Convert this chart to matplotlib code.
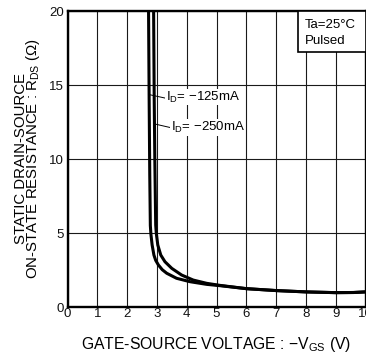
import matplotlib
matplotlib.use("Agg")
import matplotlib.pyplot as plt
from matplotlib.patches import Rectangle

plt.rcParams["font.family"] = ["Liberation Sans", "DejaVu Sans"]
plt.rcParams["mathtext.fontset"] = "custom"
plt.rcParams["mathtext.rm"] = "Liberation Sans"
plt.rcParams["mathtext.it"] = "Liberation Sans:italic"

# R_DS(on) vs -V_GS at two drain currents
vgs_125 = [2.72, 2.74, 2.76, 2.78, 2.80, 2.84, 2.90, 2.96, 3.05, 3.18, 3.33, 3.66,
           4.11, 4.67, 5.12, 6.0, 7.0, 8.0, 9.0, 9.6, 10.0]
rds_125 = [20.0, 14.0, 9.0, 5.5, 4.9, 4.19, 3.51, 3.15, 2.84, 2.52, 2.28, 1.94,
           1.71, 1.53, 1.44, 1.24, 1.11, 1.02, 0.97, 0.98, 1.02]
vgs_250 = [2.89, 2.91, 2.93, 2.96, 2.98, 3.03, 3.13, 3.27, 3.50, 3.83, 4.22, 4.67,
           5.12, 6.0, 7.0, 8.0, 9.0, 9.6, 10.0]
rds_250 = [20.0, 14.0, 10.0, 5.54, 4.98, 4.19, 3.51, 3.06, 2.61, 2.16, 1.82, 1.60,
           1.46, 1.24, 1.11, 1.02, 0.97, 0.98, 1.02]

x_ticks = [0, 1, 2, 3, 4, 5, 6, 7, 8, 9, 10]
y_ticks = [0, 5, 10, 15, 20]

W, H = 366, 356
fig = plt.figure(figsize=(W / 100, H / 100), dpi=100)
L, R, T, B = 67.5, 365.5, 11, 307
ax = fig.add_axes([L / W, (H - B) / H, (R - L) / W, (B - T) / H])

ax.set_xlim(0, 10)
ax.set_ylim(0, 20)
ax.set_xticks(x_ticks)
ax.set_yticks(y_ticks)
ax.grid(True, color="#1a1a1a", linewidth=0.8)
ax.set_axisbelow(True)
ax.tick_params(length=0, labelsize=9.5, colors="#111111")
ax.tick_params(axis="x", pad=0.5)
ax.tick_params(axis="y", pad=2.5)
for s in ax.spines.values():
    s.set_linewidth(1.7)
    s.set_color("black")

ax.plot(vgs_125, rds_125, color="black", linewidth=2.2, solid_capstyle="butt",
        solid_joinstyle="round")
ax.plot(vgs_250, rds_250, color="black", linewidth=2.2, solid_capstyle="butt",
        solid_joinstyle="round")

# curve labels with leader lines
lab_kw = dict(fontsize=9.5, va="center", ha="left",
              bbox=dict(facecolor="white", edgecolor="none", pad=0.5))
ax.plot([2.72, 3.27], [14.36, 14.12], color="black", linewidth=0.7)
ax.text(3.29, 14.19, "I$_{\\rm D}$= \u2212125mA", **lab_kw)
ax.plot([2.94, 3.44], [12.36, 12.13], color="black", linewidth=0.7)
ax.text(3.46, 12.13, "I$_{\\rm D}$= \u2212250mA", **lab_kw)

# condition box
ax.add_patch(Rectangle((7.73, 17.23), 2.27, 2.77, facecolor="white",
                       edgecolor="black", linewidth=1.2, zorder=3))
ax.text(7.96, 19.05, "Ta=25\u00b0C", fontsize=9.5, va="center", ha="left", zorder=4)
ax.text(7.96, 17.95, "Pulsed", fontsize=9.5, va="center", ha="left", zorder=4)

fig.text(216 / W, 1 - 345 / H, "GATE-SOURCE VOLTAGE : \u2212V$_{\\rm GS}$ (V)",
         fontsize=11.3, ha="center", va="center")
ylab_kw = dict(fontsize=10.8, rotation=90, rotation_mode="anchor",
               ha="center", va="baseline")
fig.text(25.5 / W, 1 - 159 / H, "STATIC DRAIN-SOURCE", **ylab_kw)
fig.text(37.5 / W, 1 - 159 / H, "ON-STATE RESISTANCE : R$_{\\rm DS}$ (\u03a9)", **ylab_kw)

fig.savefig("out.png", dpi=100)
